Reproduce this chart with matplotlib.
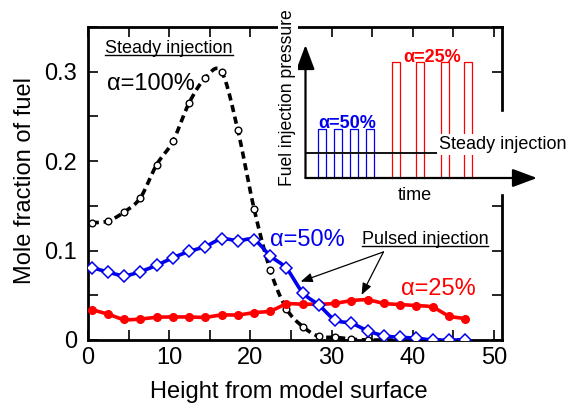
import numpy as np
import matplotlib
matplotlib.use("Agg")
import matplotlib.pyplot as plt
from matplotlib.ticker import MultipleLocator, FuncFormatter
from matplotlib.patches import Rectangle
from matplotlib.lines import Line2D

plt.rcParams['font.family'] = ['Liberation Sans', 'DejaVu Sans']

# measured points (height from surface, mole fraction)
height = [0.45, 2.45, 4.45, 6.45, 8.45, 10.45, 12.45, 14.45, 16.45, 18.45, 20.45, 22.45,
          24.45, 26.45, 28.45, 30.45, 32.45, 34.45, 36.45, 38.45, 40.45, 42.45, 44.45, 46.45]
steady_100 = [0.131, 0.133, 0.143, 0.159, 0.196, 0.222, 0.265, 0.293, 0.300, 0.235, 0.147, 0.078,
              0.035, 0.015, 0.004, 0.003, 0.001, 0.0, 0.0, 0.0, 0.0, 0.0, 0.0, 0.0]
pulsed_50 = [0.081, 0.076, 0.072, 0.0765, 0.0836, 0.092, 0.099, 0.1045, 0.113, 0.111, 0.112, 0.094,
             0.080, 0.053, 0.039, 0.0224, 0.0187, 0.0104, 0.0048, 0.003, 0.002, 0.0, 0.0, 0.0]
pulsed_25 = [0.034, 0.029, 0.023, 0.0235, 0.0254, 0.0258, 0.0258, 0.0254, 0.028, 0.028, 0.0306, 0.0325,
             0.040, 0.040, 0.040, 0.041, 0.044, 0.0448, 0.041, 0.0396, 0.0385, 0.0366, 0.027, 0.024]

# inset schematic: pulse start times, widths and levels
blue_starts = [1.6, 3.6, 5.55, 7.5]
red_starts = [10.8, 13.8, 16.9, 19.8]
pulse_w = 1.0
blue_top = 1.92
red_top = 4.57
steady_level = 1.0

BLUE = '#0000ee'
RED = '#ff0000'


def smooth(x, y, n=12):
    # catmull-rom curve through the points, like a "smoothed line"
    x = np.asarray(x, float)
    y = np.asarray(y, float)
    xp = np.concatenate([[2*x[0]-x[1]], x, [2*x[-1]-x[-2]]])
    yp = np.concatenate([[2*y[0]-y[1]], y, [2*y[-1]-y[-2]]])
    t = np.linspace(0, 1, n, endpoint=False)
    h00 = 2*t**3 - 3*t**2 + 1
    h10 = t**3 - 2*t**2 + t
    h01 = -2*t**3 + 3*t**2
    h11 = t**3 - t**2
    xs, ys = [], []
    for i in range(1, len(xp)-2):
        for src, out in ((xp, xs), (yp, ys)):
            m0 = (src[i+1]-src[i-1])/2
            m1 = (src[i+2]-src[i])/2
            out.append(h00*src[i] + h10*m0 + h01*src[i+1] + h11*m1)
    xs.append([x[-1]])
    ys.append([y[-1]])
    return np.concatenate(xs), np.concatenate(ys)


fig = plt.figure(figsize=(5.7, 4.08), dpi=100)
ax = fig.add_axes([88/570, 68/408, 414/570, 313/408])

sx, sy = smooth(height, steady_100)
ax.plot(sx, sy, color='black', lw=2.6, dashes=(2.0, 1.3), zorder=2)
ax.plot(height, steady_100, 'o', ms=4.8, mfc='white', mec='black', mew=1.0, zorder=3)

sx, sy = smooth(height, pulsed_25)
ax.plot(sx, sy, color=RED, lw=2.6, zorder=4)
ax.plot(height, pulsed_25, 'o', ms=5.5, color=RED, zorder=5)

sx, sy = smooth(height, pulsed_50)
ax.plot(sx, sy, color=BLUE, lw=2.6, zorder=6)
ax.plot(height, pulsed_50, 'D', ms=5.8, mfc='white', mec=BLUE, mew=1.1, zorder=7)

ax.set_xlim(0, 51)
ax.set_ylim(0, 0.35)
ax.xaxis.set_major_locator(MultipleLocator(10))
ax.xaxis.set_minor_locator(MultipleLocator(5))
ax.yaxis.set_major_locator(MultipleLocator(0.1))
ax.yaxis.set_minor_locator(MultipleLocator(0.05))
ax.yaxis.set_major_formatter(FuncFormatter(lambda v, p: '%g' % round(v, 2)))
ax.tick_params(which='both', direction='in', top=True, right=True, length=7, width=1.2,
               labelsize=17)
ax.tick_params(axis='x', pad=5)
ax.tick_params(axis='y', pad=8)
for s in ax.spines.values():
    s.set_linewidth(2.0)

fig.text(289/570, 1-392/408, 'Height from model surface', fontsize=17, ha='center', va='center')
fig.text(25/570, 1-181/408, 'Mole fraction of fuel', fontsize=17, ha='center', va='center',
         rotation=90)

t_steady = ax.text(2.1, 0.321, 'Steady injection', fontsize=13, va='baseline')
ax.text(2.3, 0.279, '\u03b1=100%', fontsize=17, va='baseline')
ax.text(22.4, 0.1056, '\u03b1=50%', fontsize=17, va='baseline', color=BLUE)
t_pulsed = ax.text(33.7, 0.1075, 'Pulsed injection', fontsize=13, va='baseline')
ax.text(38.6, 0.0504, '\u03b1=25%', fontsize=17, va='baseline', color=RED)

arrow = dict(arrowstyle='-|>,head_length=0.5,head_width=0.2', lw=0.9, color='black',
             mutation_scale=14, shrinkA=0, shrinkB=0)
ax.annotate('', xy=(26.2, 0.0653), xytext=(36.4, 0.0985), arrowprops=arrow, zorder=8)
ax.annotate('', xy=(33.7, 0.0504), xytext=(36.4, 0.0985), arrowprops=arrow, zorder=8)

# inset schematic of injection pressure
ax_in = fig.add_axes([305.5/570, (408-178)/408, 231.5/570, 133/408])
ax_in.set_xlim(0, 231.5/8)
ax_in.set_ylim(0, 133/25.3)
ax_in.set_axis_off()
ax_in.patch.set_alpha(0)
ax_in.add_patch(Rectangle((-0.7, -0.6), 30, 3.2, color='white', zorder=0, clip_on=False))

for s in blue_starts:
    ax_in.plot([s, s, s+pulse_w, s+pulse_w], [0, blue_top, blue_top, 0], color=BLUE,
               lw=0.9, clip_on=False, zorder=2)
for s in red_starts:
    ax_in.plot([s, s, s+pulse_w, s+pulse_w], [0, red_top, red_top, 0], color=RED,
               lw=0.9, clip_on=False, zorder=2)
ax_in.plot([0, 17], [steady_level, steady_level], color='black', lw=1.3, zorder=2)

big_arrow = dict(arrowstyle='-|>,head_length=0.75,head_width=0.28', lw=1.6, color='black',
                 mutation_scale=20, shrinkA=0, shrinkB=0)
ax_in.annotate('', xy=(231.5/8, 0), xytext=(0, 0), arrowprops=big_arrow, annotation_clip=False)
ax_in.annotate('', xy=(0, 133/25.3), xytext=(0, 0), arrowprops=big_arrow, annotation_clip=False)

ax_in.text(1.56, 1.96, '\u03b1=50%', fontsize=13, color=BLUE, va='baseline', fontweight='bold')
ax_in.text(12.2, 4.6, '\u03b1=25%', fontsize=13, color=RED, va='baseline', fontweight='bold')
ax_in.text(16.7, 1.15, 'Steady injection', fontsize=13, va='baseline', zorder=5,
           bbox=dict(facecolor='white', edgecolor='none', pad=1.5))
ax_in.text(13.7, -0.87, 'time', fontsize=13, ha='center', va='baseline', clip_on=False)
ax_in.text(-2.2, 3.16, 'Fuel injection pressure', fontsize=12.7, rotation=90, ha='center',
           va='center', bbox=dict(facecolor='white', edgecolor='none', pad=1.0))

# underline the two captions
fig.canvas.draw()
r = fig.canvas.get_renderer()
for t in (t_steady, t_pulsed):
    bb = t.get_window_extent(r)
    yb = ax.transData.transform(t.get_position())[1] - 2.5
    fig.add_artist(Line2D([bb.x0, bb.x1], [yb, yb], transform=None, color='black', lw=1.0))

fig.savefig('out.png', dpi=100)
